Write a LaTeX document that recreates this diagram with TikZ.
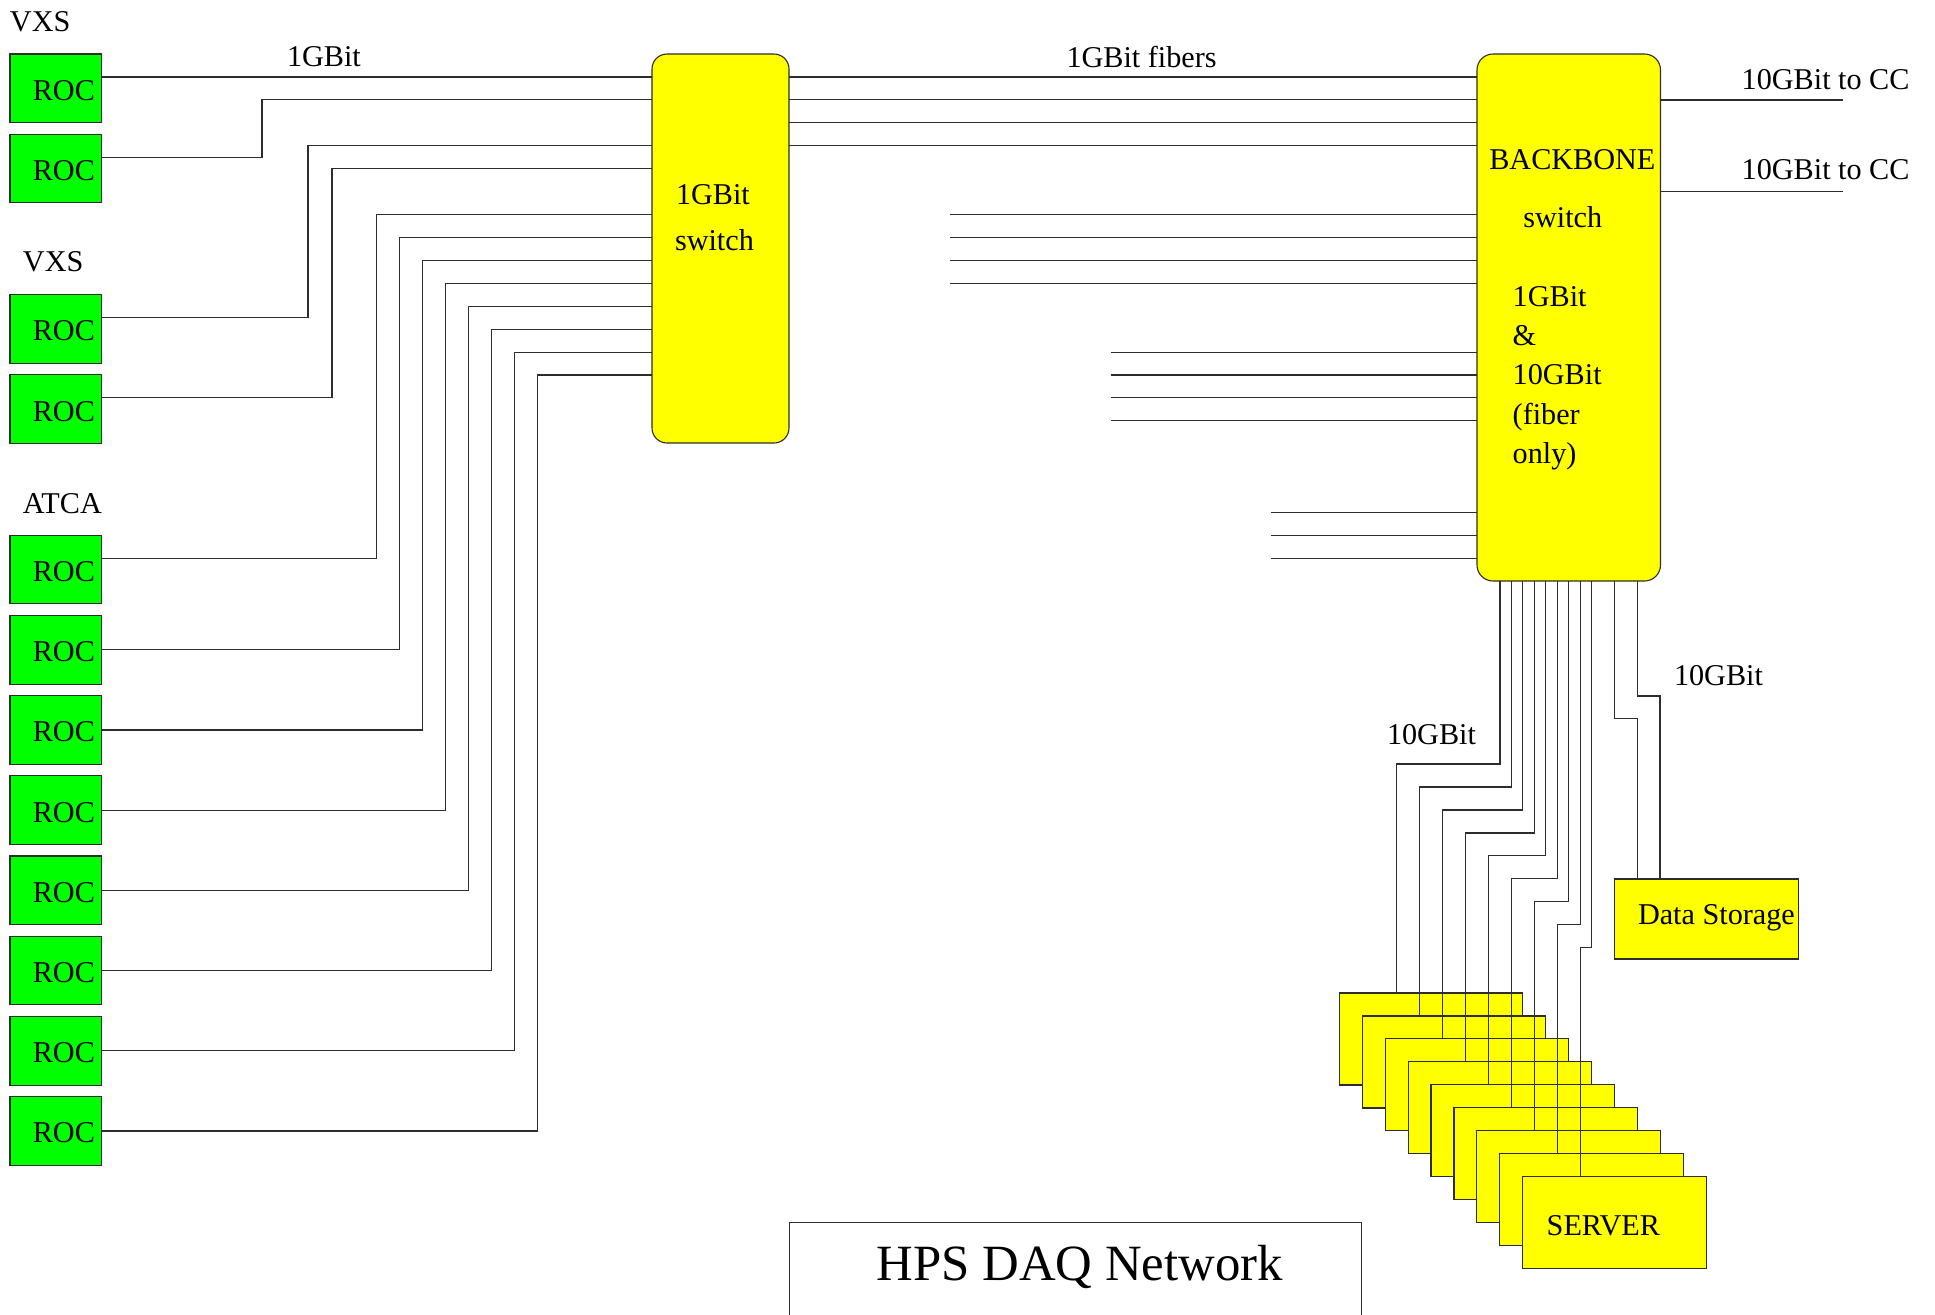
\documentclass[tikz,border=0pt]{standalone}
\usepackage{fontspec}
\setmainfont{Liberation Serif}
\usetikzlibrary{calc}
\definecolor{rocgreen}{RGB}{0,255,0}
\definecolor{swyellow}{RGB}{255,255,0}
\definecolor{wirecol}{RGB}{45,45,45}
\begin{document}
\begin{tikzpicture}[x=0.5pt,y=-0.5pt,
  wire/.style={draw=wirecol, line width=0.55pt},
  txt/.style={inner sep=0pt, outer sep=0pt, font=\fontsize{15.1}{18}\selectfont, anchor=base west},
  rocbox/.style={draw=wirecol, line width=0.55pt, fill=rocgreen, minimum width=45.85pt, minimum height=34.35pt,
     inner sep=0pt, outer sep=0pt, anchor=north west, text height=12pt, text depth=0pt, font=\fontsize{15.1}{18}\selectfont},
  ybox/.style={draw=wirecol, line width=0.55pt, fill=swyellow, inner sep=0pt, outer sep=0pt, anchor=north west},
  titletxt/.style={inner sep=0pt, outer sep=0pt, font=\fontsize{25.4}{30}\selectfont, anchor=base west}
]
\useasboundingbox (0,0) rectangle (1935,1314);

% switches
\node[ybox, rounded corners=7.5pt, minimum width=68.5pt, minimum height=194.5pt] (sw) at (652,54) {};
\node[ybox, rounded corners=8pt, minimum width=91.75pt, minimum height=263.5pt] (bb) at (1477,54) {};

% ROC boxes
\foreach \i/\s in {1/0,2/1,3/3,4/4,5/6,6/7,7/8,8/9,9/10,10/11,11/12,12/13}
  \node[rocbox] (roc\i) at (10,54+80.2*\s) {\hspace*{8pt}ROC};

% ROC -> switch
\draw[wire] (roc1.east |- 0,77) -- (sw.west |- 0,77);
\foreach \i/\ly/\vx/\s in {2/157.2/262/1, 3/317.6/308/3, 4/397.8/332/4, 5/558.2/376.5/6,
   6/649.75/399.5/7, 7/730/422.5/8, 8/810.2/445.5/9, 9/890.4/468.5/10,
   10/970.5/491.5/11, 11/1050.8/514.5/12, 12/1131/537.5/13}
{
  \pgfmathsetmacro\yy{77+22.92*\s}
  \draw[wire] (roc\i.east |- 0,\ly) -| (\vx,\yy) -- (sw.west |- 0,\yy);
}

% switch -> backbone
\foreach \s in {0,1,2,3}
{
  \pgfmathsetmacro\yy{77+22.92*\s}
  \draw[wire] (sw.east |- 0,\yy) -- (bb.west |- 0,\yy);
}

% fiber stubs into backbone
\foreach \s/\x in {6/950,7/950,8/950,9/950,12/1110.5,13/1110.5,14/1110.5,15/1110.5,19/1271,20/1271,21/1271}
{
  \pgfmathsetmacro\yy{77+22.92*\s}
  \coordinate (stub\s) at (\x,\yy);
  \draw[wire] (stub\s) -- (bb.west |- stub\s);
}

% uplinks to CC
\coordinate (cc1) at (1843.3,100);
\coordinate (cc2) at (1843.3,191.7);
\draw[wire] (bb.east |- cc1) -- (cc1);
\draw[wire] (bb.east |- cc2) -- (cc2);

% servers
\foreach \k in {1,...,9}
  \node[ybox, minimum width=91.8pt, minimum height=46pt] (srv\k) at ({1339.3+22.93*(\k-1)},{993+22.95*(\k-1)}) {};

% data storage
\node[ybox, minimum width=92pt, minimum height=40pt] (ds) at (1614.3,879) {};

% backbone -> servers
\foreach \k in {1,...,9}
{
  \pgfmathsetmacro\xa{1500+11.45*(\k-1)}
  \pgfmathsetmacro\ya{764+22.98*(\k-1)}
  \pgfmathsetmacro\xb{1396.7+22.93*(\k-1)}
  \draw[wire] (bb.south -| \xa,0) -- (\xa,\ya) -| (srv\k.north -| \xb,0);
}

% backbone -> data storage
\draw[wire] (bb.south -| 1614.5,0) -- (1614.5,718.3) -| (ds.north -| 1637.3,0);
\draw[wire] (bb.south -| 1637.3,0) -- (1637.3,696) -| (ds.north -| 1660,0);

% labels
\node[txt] (lvxs1) at (10,31.5) {VXS};
\node[txt] (lvxs2) at (23,271.7) {VXS};
\node[txt] (latca) at (23,513) {ATCA};
\node[txt] (l1g) at (287,66.7) {1GBit};
\node[txt] (lfib) at (1066.5,67.5) {1GBit fibers};
\node[txt] (swt1) at (676,204) {1GBit};
\node[txt] (swt2) at (675,250) {switch};
\node[txt] (bbt1) at (1489.3,169.3) {BACKBONE};
\node[txt] (bbt2) at (1523.3,227.5) {switch};
\node[txt] (bbt3) at (1512.7,306) {1GBit};
\node[txt] (bbt4) at (1512.7,345.4) {\&};
\node[txt] (bbt5) at (1512.7,384.8) {10GBit};
\node[txt] (bbt6) at (1512.7,424.2) {(fiber};
\node[txt] (bbt7) at (1512.7,463.6) {only)};
\node[txt] (cct1) at (1741.7,89.3) {10GBit to CC};
\node[txt] (cct2) at (1741.7,179.3) {10GBit to CC};
\node[txt] (g10a) at (1387,744) {10GBit};
\node[txt] (g10b) at (1674,685.7) {10GBit};
\node[txt] (dst) at (1638,924.5) {Data Storage};
\node[txt] (srvt) at (1546.7,1235) {SERVER};

% title
\draw[wire] (789.3,1340) |- (1361.7,1222.3) -- (1361.7,1340);
\node[titletxt] (title) at (876.7,1280) {HPS DAQ Network};
\end{tikzpicture}
\end{document}
